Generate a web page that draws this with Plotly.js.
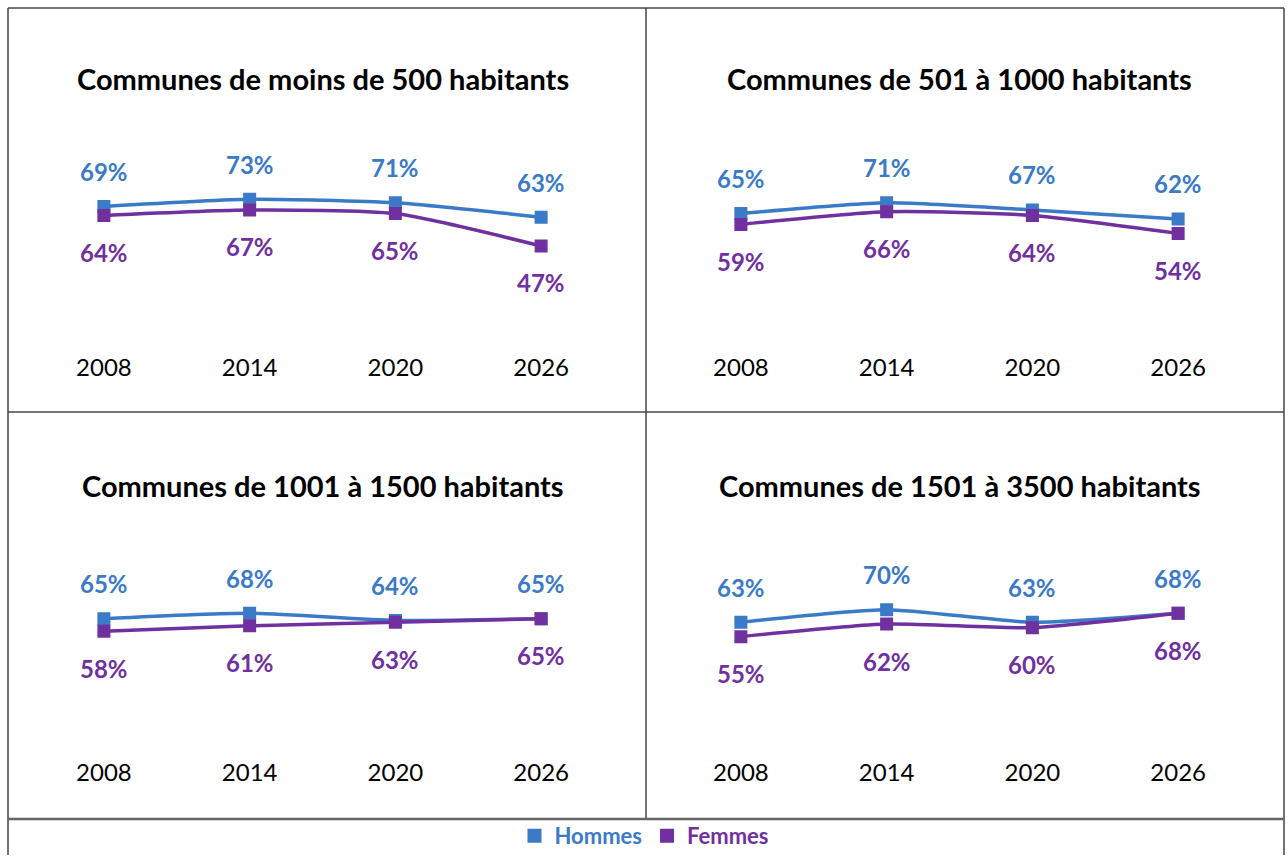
<!DOCTYPE html>
<html>
<head>
<meta charset="utf-8">
<script src="https://cdn.plot.ly/plotly-3.0.1.min.js"></script>
<style>html,body{margin:0;padding:0;background:#fff;}#chart{width:1288px;height:857px;}</style>
</head>
<body>
<div id="chart"></div>
<script>
const years = [2008, 2014, 2020, 2026];
const yearLabels = ['2008', '2014', '2020', '2026'];
const panelTitles = [
  'Communes de moins de 500 habitants',
  'Communes de 501 à 1000 habitants',
  'Communes de 1001 à 1500 habitants',
  'Communes de 1501 à 3500 habitants'
];
const hommes1 = [69, 73, 71, 63];
const femmes1 = [64, 67, 65, 47];
const hommes2 = [65, 71, 67, 62];
const femmes2 = [59, 66, 64, 54];
const hommes3 = [65, 68, 64, 65];
const femmes3 = [58, 61, 63, 65];
const hommes4 = [63, 70, 63, 68];
const femmes4 = [55, 62, 60, 68];
const seriesNames = ['Hommes', 'Femmes'];

const BLUE = '#3A7AC6';
const PURPLE = '#7030A0';
const FONT = 'Lato, "Open Sans", sans-serif';
const W = 1288, H = 857;
const py = p => 1 - p / H;
const px = p => p / W;

const hommes = [hommes1, hommes2, hommes3, hommes4];
const femmes = [femmes1, femmes2, femmes3, femmes4];

const xDomains = [[px(31), px(614)], [px(668), px(1251)]];
const yDomains = [[py(352), py(151)], [py(758), py(557)]];
const titleY = [79, 487];

const traces = [];
const annotations = [];
const layout = {
  width: W, height: H,
  margin: {l: 0, r: 0, t: 0, b: 0},
  paper_bgcolor: '#fff', plot_bgcolor: 'rgba(0,0,0,0)',
  font: {family: FONT, color: '#000'},
  showlegend: true,
  legend: {
    orientation: 'h', x: 0.5, xanchor: 'center', y: py(838), yanchor: 'middle',
    font: {family: FONT, size: 22, color: BLUE},
    itemwidth: 30, tracegroupgap: 0, bgcolor: 'rgba(0,0,0,0)'
  },
  shapes: [],
  annotations: annotations
};

for (let i = 0; i < 4; i++) {
  const col = i % 2, row = Math.floor(i / 2);
  const ax = i === 0 ? '' : String(i + 1);
  layout['xaxis' + ax] = {
    domain: xDomains[col], type: 'linear', range: [2005, 2029],
    tickmode: 'array', tickvals: years, ticktext: yearLabels,
    showgrid: false, zeroline: false, showline: false, ticks: '',
    tickfont: {family: FONT, size: 24, color: '#000'}, fixedrange: true,
    anchor: 'y' + ax
  };
  layout['yaxis' + ax] = {
    domain: yDomains[row], range: [-11.5, 100], visible: false,
    showgrid: false, zeroline: false, fixedrange: true, anchor: 'x' + ax
  };
  const series = [hommes[i], femmes[i]];
  const colors = [BLUE, PURPLE];
  series.forEach((vals, s) => {
    traces.push({
      type: 'scatter', mode: 'lines+markers', x: years, y: vals,
      xaxis: 'x' + ax, yaxis: 'y' + ax, name: seriesNames[s], showlegend: false,
      line: {color: colors[s], width: 3.5, shape: 'spline', smoothing: 0.6},
      marker: {symbol: 'square', size: 13, color: colors[s]},
      hoverinfo: 'skip'
    });
    vals.forEach((v, k) => {
      annotations.push({
        xref: 'x' + ax, yref: 'y' + ax, x: years[k], y: v,
        text: '<b>' + v + '%</b>', showarrow: false,
        yshift: s === 0 ? 35 : -37,
        font: {family: FONT, size: 24, color: colors[s]}
      });
    });
  });
  annotations.push({
    xref: 'paper', yref: 'paper',
    x: (xDomains[col][0] + xDomains[col][1]) / 2, y: py(titleY[row]),
    xanchor: 'center', yanchor: 'middle', showarrow: false,
    text: '<b>' + panelTitles[i] + '</b>',
    font: {family: FONT, size: 29, color: '#000'}
  });
}

// legend proxies
seriesNames.forEach((n, s) => {
  traces.push({
    type: 'scatter', mode: 'markers', x: [null], y: [null], name: '<b>' + n + '</b>',
    marker: {symbol: 'square', size: 14, color: [BLUE, PURPLE][s]},
    showlegend: true, hoverinfo: 'skip'
  });
});

const line = {color: '#444', width: 1.5};
const sh = (x0, y0, x1, y1, l) => layout.shapes.push({type: 'line', xref: 'paper', yref: 'paper', x0: px(x0), y0: py(y0), x1: px(x1), y1: py(y1), line: l || line});
sh(8, 8, 1284, 8);
sh(8, 8, 8, 857);
sh(1284, 8, 1284, 857);
sh(646, 8, 646, 821);
sh(8, 413, 1284, 413);
sh(8, 821, 1284, 821, {color: '#666', width: 2.5});

Plotly.newPlot('chart', traces, layout, {displayModeBar: false, staticPlot: true}).then(() => {
  const texts = document.querySelectorAll('.legendtext');
  const cols = [BLUE, PURPLE];
  texts.forEach((t, i) => { t.style.fill = cols[i % 2]; });
});
</script>
</body>
</html>
